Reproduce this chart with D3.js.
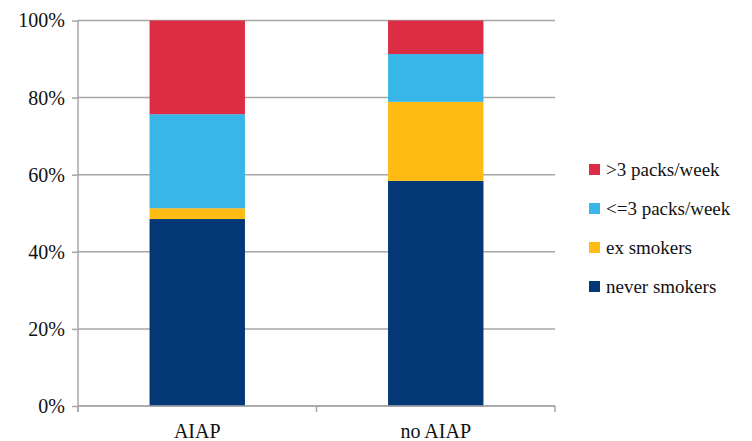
<!DOCTYPE html>
<html>
<head>
<meta charset="utf-8">
<script src="https://d3js.org/d3.v7.min.js"></script>
<style>
  body { margin: 0; background: #fff; }
  svg text { font-family: "Liberation Serif", "Times New Roman", Tinos, "DejaVu Serif", "Noto Serif", Georgia, serif; fill: #111; }
</style>
</head>
<body>
<script>
// data (percent of each group)
var groups = ["AIAP", "no AIAP"];
var seriesNames = ["never smokers", "ex smokers", "<=3 packs/week", ">3 packs/week"];
var neverSmokers = [48.5, 58.4];
var exSmokers = [2.8, 20.5];
var lightSmokers = [24.4, 12.4];
var heavySmokers = [24.3, 8.7];
var colors = ["#033775", "#fdbb14", "#38b6e8", "#dc2d45"];
var yTicks = [0, 20, 40, 60, 80, 100];

var W = 752, H = 441;
var margin = {top: 20.5, left: 78, right: 197, bottom: 35};
var width = W - margin.left - margin.right;
var height = H - margin.top - margin.bottom;

var rows = groups.map(function(g, i) {
  return {group: g, "never smokers": neverSmokers[i], "ex smokers": exSmokers[i],
          "<=3 packs/week": lightSmokers[i], ">3 packs/week": heavySmokers[i]};
});
var stack = d3.stack().keys(seriesNames)(rows);

var svg = d3.select("body").append("svg").attr("width", W).attr("height", H);
var g = svg.append("g").attr("transform", "translate(" + margin.left + "," + margin.top + ")");

var x = d3.scaleBand().domain(groups).range([0, width]).paddingInner(0.6).paddingOuter(0.3);
var xTicks = d3.scaleBand().domain(groups).range([0, width]);
var y = d3.scaleLinear().domain([0, 100]).range([height, 0]);

// gridlines
g.selectAll(".grid").data(yTicks).enter().append("line")
  .attr("x1", 0).attr("x2", width)
  .attr("y1", function(d) { return y(d); }).attr("y2", function(d) { return y(d); })
  .attr("stroke", "#a6a6a6").attr("stroke-width", 1.5);

// bars
g.selectAll(".series").data(stack).enter().append("g")
  .attr("fill", function(d, i) { return colors[i]; })
  .selectAll("rect").data(function(d) { return d; }).enter().append("rect")
  .attr("x", function(d) { return x(d.data.group); })
  .attr("width", x.bandwidth())
  .attr("y", function(d) { return y(d[1]); })
  .attr("height", function(d) { return y(d[0]) - y(d[1]); });

// y axis
var yAxis = g.append("g").call(d3.axisLeft(y).tickValues(yTicks)
  .tickFormat(function(d) { return d + "%"; }).tickSize(6).tickPadding(7));
yAxis.attr("font-family", null);
yAxis.select(".domain").attr("stroke", "#a6a6a6").attr("stroke-width", 1.5)
  .attr("d", "M0,0V" + (height + 6));
yAxis.selectAll(".tick line").attr("stroke", "#a6a6a6").attr("stroke-width", 1.5);
yAxis.selectAll("text").attr("font-size", 20).attr("fill", "#111");

// x axis
var xAxis = g.append("g").attr("transform", "translate(0," + height + ")");
xAxis.append("line").attr("x1", 0).attr("x2", width)
  .attr("stroke", "#a6a6a6").attr("stroke-width", 1.5);
var bounds = [0].concat(groups.map(function(d) { return xTicks(d) + xTicks.bandwidth(); }));
xAxis.selectAll(".xt").data(bounds).enter().append("line")
  .attr("x1", function(d) { return d; }).attr("x2", function(d) { return d; })
  .attr("y1", 0).attr("y2", 6)
  .attr("stroke", "#a6a6a6").attr("stroke-width", 1.5);
xAxis.selectAll(".xl").data(groups).enter().append("text")
  .attr("x", function(d) { return xTicks(d) + xTicks.bandwidth() / 2; })
  .attr("y", 32).attr("text-anchor", "middle").attr("font-size", 20)
  .text(function(d) { return d; });

// legend (top entry is last series)
var legendItems = seriesNames.slice().reverse();
var legend = svg.append("g").attr("transform", "translate(589,164)");
legendItems.forEach(function(name, i) {
  var row = legend.append("g").attr("transform", "translate(0," + (i * 39) + ")");
  row.append("rect").attr("width", 11).attr("height", 11)
    .attr("fill", colors[seriesNames.indexOf(name)]);
  row.append("text").attr("x", 17).attr("y", 11.5).attr("font-size", 19).text(name);
});
</script>
</body>
</html>
